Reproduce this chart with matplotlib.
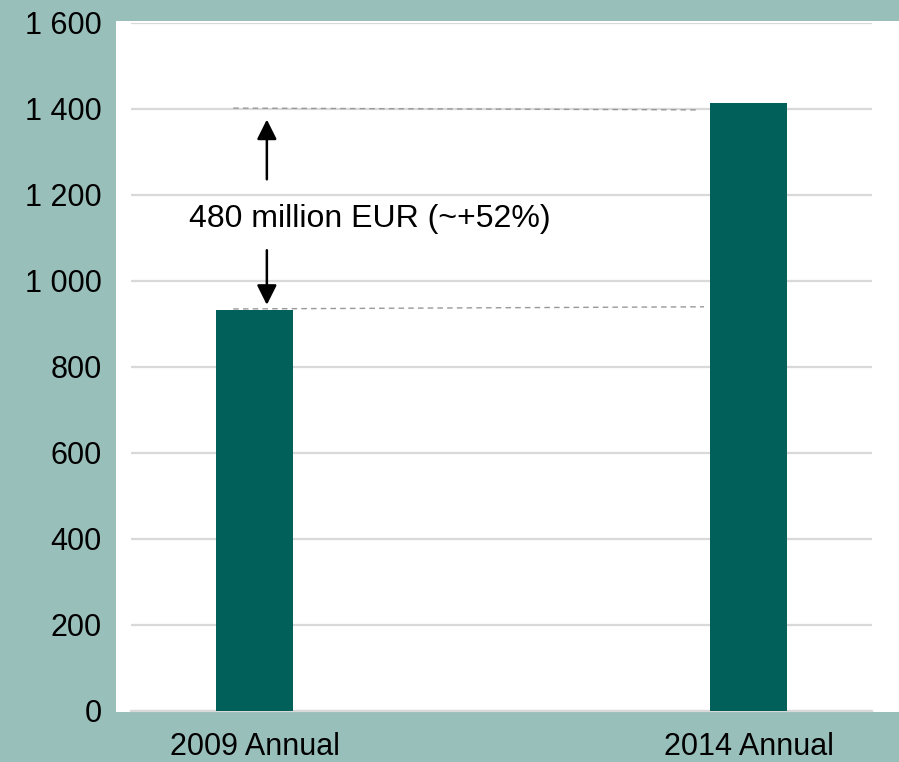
import matplotlib.pyplot as plt
from matplotlib.patches import Rectangle

plt.rcParams['font.family'] = ['Liberation Sans', 'DejaVu Sans']

# data
categories = ['2009 Annual', '2014 Annual']
values = [933, 1413]
ref_low = 935
ref_high = 1402
note = '480 million EUR (~+52%)'

bg = '#99bfbb'
bar_col = '#02605a'

fig = plt.figure(figsize=(8.99, 7.62), dpi=100, facecolor=bg)
# white panel behind the plot
fig.patches.append(Rectangle((116 / 899, 1 - 712 / 762), 783 / 899, 691 / 762,
                             transform=fig.transFigure, facecolor='white',
                             edgecolor='none', zorder=-5))

ax = fig.add_axes([131 / 899, 1 - 711 / 762, 741 / 899, 688 / 762])
ax.set_facecolor('none')
x = range(len(categories))
ax.bar(x, values, width=0.156, color=bar_col, zorder=3)

ax.set_xlim(-0.25, 1.25)
ax.set_ylim(0, 1600)
ax.set_yticks(range(0, 1601, 200))
ax.set_yticklabels([f'{v:,}'.replace(',', ' ') for v in range(0, 1601, 200)])
ax.set_xticks(list(x))
ax.set_xticklabels(categories)
ax.tick_params(axis='y', length=0, pad=21, labelsize=22)
ax.tick_params(axis='x', length=0, pad=15, labelsize=22)
ax.grid(axis='y', color='#d9d9d9', linewidth=1.6, zorder=0)
for s in ['top', 'right', 'left']:
    ax.spines[s].set_visible(False)
ax.spines['bottom'].set_color('#d9d9d9')
ax.spines['bottom'].set_linewidth(1.6)

# reference dashed lines
ax.plot([-0.043, 0.9], [ref_high, ref_high - 4], ls=(0, (4, 3)), color='#999999', lw=1, zorder=2)
ax.plot([-0.043, 0.91], [ref_low, ref_low + 5], ls=(0, (4, 3)), color='#999999', lw=1, zorder=2)

# arrows
ax.annotate('', xy=(0.025, 1382), xytext=(0.025, 1230),
            arrowprops=dict(arrowstyle='-|>', color='black', lw=1.8, mutation_scale=30))
ax.annotate('', xy=(0.025, 938), xytext=(0.025, 1078),
            arrowprops=dict(arrowstyle='-|>', color='black', lw=1.8, mutation_scale=30))
ax.text(0.233, 1145, note, ha='center', va='center', fontsize=23, zorder=4)

plt.savefig('out.png', dpi=100, facecolor=bg)
